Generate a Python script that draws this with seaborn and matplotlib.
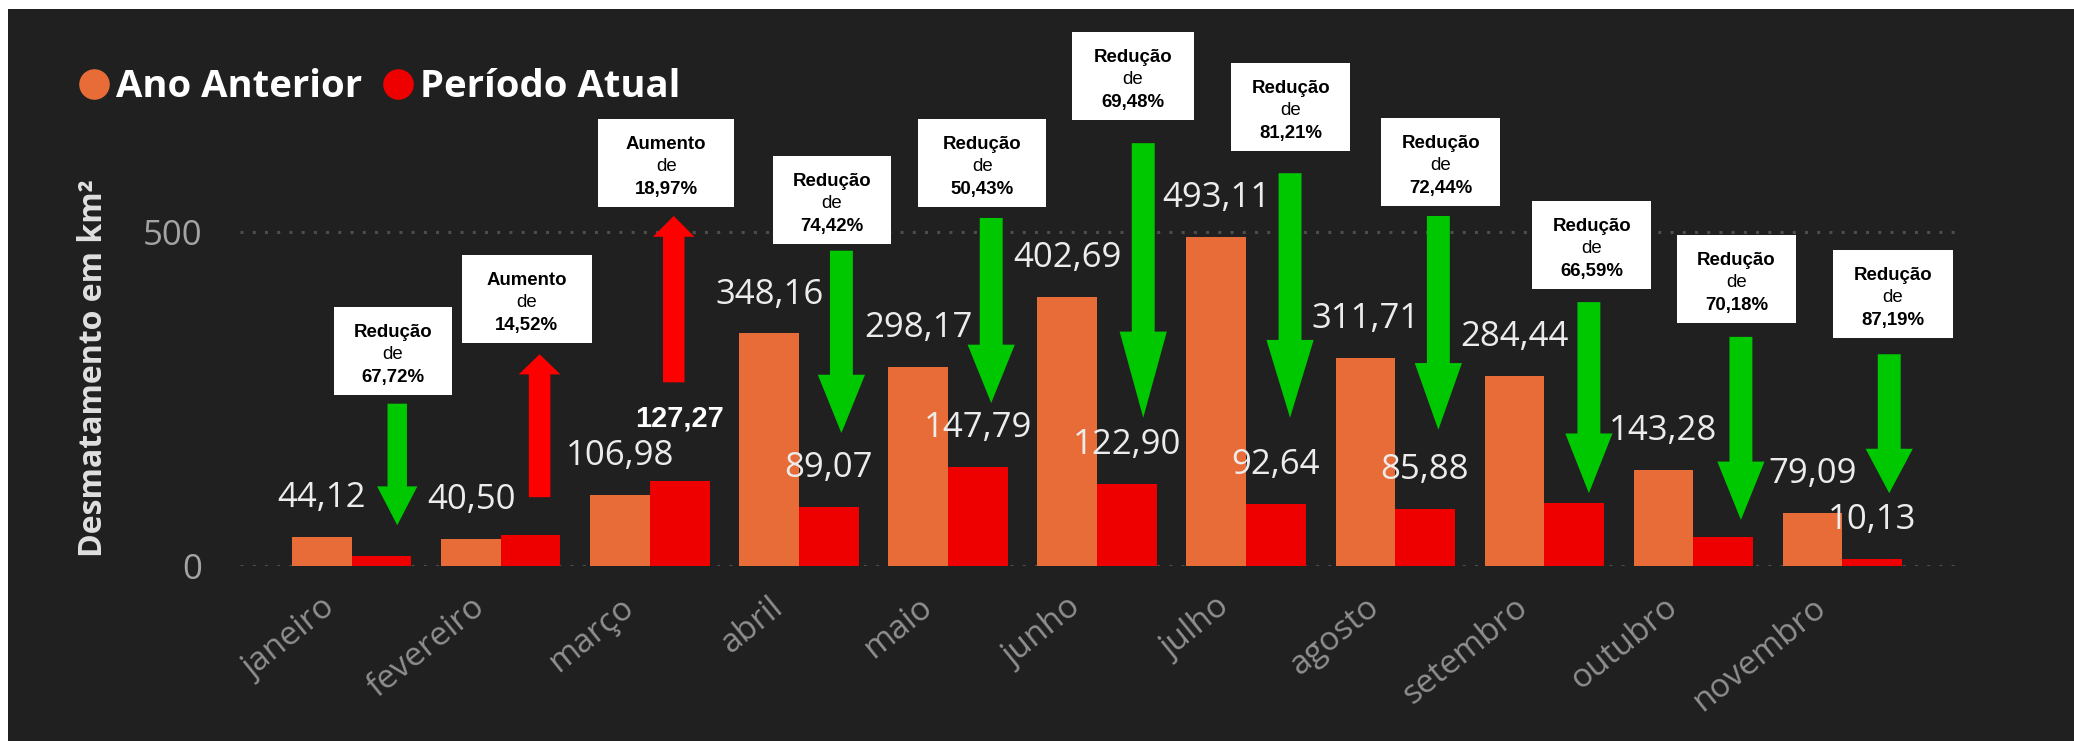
import matplotlib
matplotlib.use("Agg")
import matplotlib.pyplot as plt
import matplotlib.transforms as mtransforms
from matplotlib.patches import Rectangle
from matplotlib.lines import Line2D
import seaborn as sns
import pandas as pd

# ---------------- data ----------------
months = ["janeiro", "fevereiro", "março", "abril", "maio", "junho",
          "julho", "agosto", "setembro", "outubro", "novembro"]
ano_anterior = [44.12, 40.50, 106.98, 348.16, 298.17, 402.69,
                493.11, 311.71, 284.44, 143.28, 79.09]
periodo_atual = [14.24, 46.38, 127.27, 89.07, 147.79, 122.90,
                 92.64, 85.88, 95.03, 42.73, 10.13]
labels_anterior = ["44,12", "40,50", "106,98", "348,16", "298,17", "402,69",
                   "493,11", "311,71", "284,44", "143,28", "79,09"]
labels_atual = [None, None, "127,27", "89,07", "147,79", "122,90",
                "92,64", "85,88", None, None, "10,13"]
change_kind = ["Redução", "Aumento", "Aumento", "Redução", "Redução", "Redução",
               "Redução", "Redução", "Redução", "Redução", "Redução"]
change_pct = ["67,72%", "14,52%", "18,97%", "74,42%", "50,43%", "69,48%",
              "81,21%", "72,44%", "66,59%", "70,18%", "87,19%"]
series_names = ["Ano Anterior", "Período Atual"]
y_ticks = [0, 500]
y_title = "Desmatamento em km²"

# ---------------- annotation layout (not data) ----------------
box_dx = [0.275, 0.175, 0.11, 0.22, 0.23, 0.24, 0.30, 0.305, 0.32, 0.29, 0.34]
box_cy = [322, 400, 603, 548, 603, 734, 687, 605, 481, 430, 407]
box_w = [0.79, 0.87, 0.91, 0.79, 0.86, 0.82, 0.80, 0.80, 0.80, 0.80, 0.80]
arrow_dx = [0.305, 0.26, 0.16, 0.285, 0.29, 0.31, 0.295, 0.29, 0.30, 0.32, 0.315]
arrow_from = [243, 103, 275, 472, 521, 633, 588, 524, 395, 343, 317]
arrow_to = [61, 317, 524, 199, 244, 222, 222, 204, 109, 69, 109]
arrow_head = [28, 14.5, 15, 42, 42, 62, 56, 48, 43, 42, 32]
overlay_label = [False, False, True, False, False, False, False, False, False, False, False]

ORANGE = "#E86C37"
RED = "#EE0000"
GREEN_ARROW = "#00C800"
RED_ARROW = "#FF0000"
BG = "#202020"
FONT = ["Open Sans", "DejaVu Sans"]
BOXFONT = ["Liberation Sans", "DejaVu Sans"]

sns.set_theme(style="dark")
plt.rcParams["font.family"] = FONT

W, H = 2074, 741
fig = plt.figure(figsize=(W / 100, H / 100), dpi=100)
fig.patch.set_facecolor(BG)
# white strips (screenshot border)
fig.add_artist(Rectangle((0, 1 - 9 / H), 1, 9 / H, transform=fig.transFigure,
                         fc="white", ec="none", zorder=-5))
fig.add_artist(Rectangle((0, 0), 8 / W, 1, transform=fig.transFigure,
                         fc="white", ec="none", zorder=-5))

ax_left, ax_right = 240 / W, 1963 / W
ax_bottom = (H - 566) / H
ax_height = 534.4 / H
ax = fig.add_axes([ax_left, ax_bottom, ax_right - ax_left, ax_height])
ax.set_facecolor("none")

df = pd.DataFrame({
    "mes": months * 2,
    "valor": ano_anterior + periodo_atual,
    "serie": [series_names[0]] * len(months) + [series_names[1]] * len(months),
})
sns.barplot(data=df, x="mes", y="valor", hue="serie", order=months,
            hue_order=series_names, palette=[ORANGE, RED], saturation=1,
            width=0.8, errorbar=None, legend=False, ax=ax, zorder=2,
            linewidth=0, edgecolor="none")

ax.set_xlim(-0.75, 10.81)
ax.set_ylim(0, 800)
ax.set_yticks(y_ticks)
ax.set_xlabel("")
ax.set_ylabel("")
for s in ax.spines.values():
    s.set_visible(False)
ax.grid(False)
ax.yaxis.grid(True, linestyle=(0, (1, 3)), color="#4d4d4d", linewidth=2.2)
ax.set_axisbelow(True)

ax.tick_params(axis="y", length=0, pad=27, labelsize=25, labelcolor="#a3a3a3")
ax.tick_params(axis="x", length=0, pad=27, labelsize=24, labelcolor="#8f8f8f")
shift = mtransforms.ScaledTranslation(-0.2, 0, fig.dpi_scale_trans)
for lab in ax.get_xticklabels():
    lab.set_rotation(39)
    lab.set_ha("right")
    lab.set_va("center")
    lab.set_rotation_mode("anchor")
    lab.set_transform(lab.get_transform() + shift)

# value labels
for bar, lab in zip(ax.containers[0], labels_anterior):
    ax.annotate(lab, (bar.get_x() + bar.get_width() / 2, bar.get_height()),
                xytext=(0, 28), textcoords="offset points", ha="center",
                va="center", fontsize=25, color="#ececec", zorder=4)
for bar, lab, ov in zip(ax.containers[1], labels_atual, overlay_label):
    if lab is None:
        continue
    x = bar.get_x() + bar.get_width() / 2
    if ov:
        ax.annotate(lab, (x, bar.get_height()), xytext=(0, 45),
                    textcoords="offset points", ha="center", va="center",
                    fontsize=21, fontweight="bold", color="white",
                    family=BOXFONT, zorder=6)
    else:
        ax.annotate(lab, (x, bar.get_height()), xytext=(0, 28),
                    textcoords="offset points", ha="center", va="center",
                    fontsize=25, color="#ececec", zorder=4)

# annotation boxes and arrows
BOX_H = 132
for i in range(len(months)):
    cx = i + box_dx[i]
    cy = box_cy[i]
    ax.add_patch(Rectangle((cx - box_w[i] / 2, cy - BOX_H / 2), box_w[i], BOX_H,
                           fc="white", ec="none", zorder=5, clip_on=False))
    for txt, off, wt in [(change_kind[i], 10, "bold"), ("de", -5.8, "normal"),
                         (change_pct[i], -22.3, "bold")]:
        ax.annotate(txt, (cx, cy), xytext=(0, off), textcoords="offset points",
                    ha="center", va="baseline", fontsize=13.4, fontweight=wt,
                    color="black", family=BOXFONT, zorder=6,
                    annotation_clip=False)
    up = change_kind[i] == "Aumento"
    col = RED_ARROW if up else GREEN_ARROW
    tw, hw = (15.5, 30) if up else (16.5, 34)
    if i == 0:
        tw, hw = 14, 29
    ax.annotate("", xy=(i + arrow_dx[i], arrow_to[i]),
                xytext=(i + arrow_dx[i], arrow_from[i]),
                arrowprops=dict(arrowstyle=f"simple,head_length={arrow_head[i]},"
                                           f"head_width={hw},tail_width={tw}",
                                mutation_scale=1, fc=col, ec="none", lw=0,
                                shrinkA=0, shrinkB=0),
                annotation_clip=False, zorder=6)

# y axis title
fig.text(93.5 / W, 1 - 368 / H, y_title, rotation=90, ha="center", va="center",
         fontsize=23, fontweight="bold", color="#e0e0e0")

# legend
handles = [Line2D([], [], marker="o", ls="", markersize=21, color=c)
           for c in (ORANGE, RED)]
leg = fig.legend(handles, series_names, loc="center left",
                 bbox_to_anchor=(80 / W, 1 - 87 / H), ncol=2, frameon=False,
                 prop={"family": FONT, "weight": "bold", "size": 27.5},
                 handletextpad=0.2, columnspacing=0.55, handlelength=0.75,
                 borderpad=0, borderaxespad=0, labelcolor="white")

fig.savefig("out.png", dpi=100, facecolor=fig.get_facecolor())
